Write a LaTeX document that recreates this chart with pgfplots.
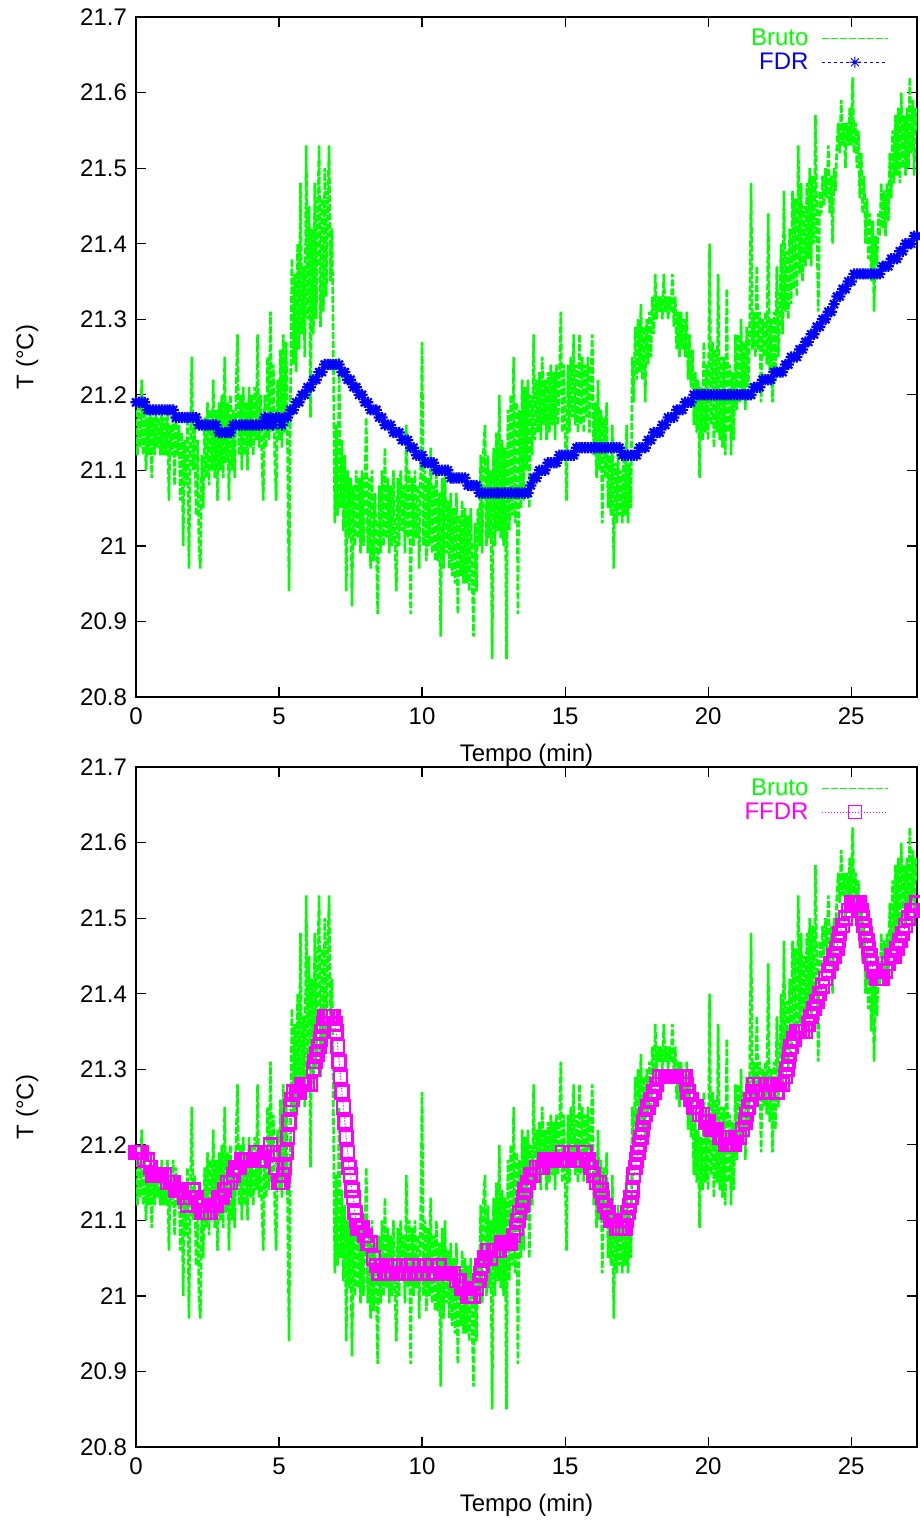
\documentclass[border=0pt]{standalone}
\usepackage{fontspec}
\setmainfont{Liberation Sans}
\usepackage{pgfplots}
\pgfplotsset{compat=1.18}
\usepackage{pgfplotstable}

\definecolor{cgreen}{RGB}{0,255,0}
\definecolor{cblue}{RGB}{0,0,255}
\definecolor{cmag}{RGB}{255,0,255}

\pgfdeclareplotmark{gstar}{%
  \pgfpathmoveto{\pgfqpoint{-\pgfplotmarksize}{0pt}}\pgfpathlineto{\pgfqpoint{\pgfplotmarksize}{0pt}}%
  \pgfpathmoveto{\pgfqpoint{0pt}{-\pgfplotmarksize}}\pgfpathlineto{\pgfqpoint{0pt}{\pgfplotmarksize}}%
  \pgfpathmoveto{\pgfqpoint{-0.707\pgfplotmarksize}{-0.707\pgfplotmarksize}}\pgfpathlineto{\pgfqpoint{0.707\pgfplotmarksize}{0.707\pgfplotmarksize}}%
  \pgfpathmoveto{\pgfqpoint{-0.707\pgfplotmarksize}{0.707\pgfplotmarksize}}\pgfpathlineto{\pgfqpoint{0.707\pgfplotmarksize}{-0.707\pgfplotmarksize}}%
  \pgfusepathqstroke}

\pgfplotstableread[row sep=\\]{t T\\
0 21.18\\0.05 21.12\\0.1 21.19\\0.15 21.13\\0.2 21.22\\0.25 21.12\\0.3 21.18\\0.35 21.10\\0.4 21.17\\0.45 21.12\\
0.5 21.18\\0.55 21.09\\0.6 21.17\\0.65 21.12\\0.7 21.18\\0.75 21.13\\0.8 21.17\\0.85 21.12\\0.9 21.18\\0.95 21.12\\
1 21.17\\1.05 21.12\\1.1 21.18\\1.15 21.06\\1.2 21.16\\1.25 21.12\\1.3 21.18\\1.35 21.08\\1.4 21.17\\1.45 21.12\\
1.5 21.16\\1.55 21.06\\1.6 21.15\\1.65 21.00\\1.7 21.14\\1.75 21.08\\1.8 21.17\\1.85 20.97\\1.9 21.12\\1.95 21.25\\
2 21.10\\2.05 21.16\\2.1 21.04\\2.15 21.14\\2.2 21.00\\2.25 20.97\\2.3 21.12\\2.35 21.05\\2.4 21.17\\2.45 21.09\\
2.5 21.19\\2.55 21.08\\2.6 21.18\\2.65 21.10\\2.7 21.22\\2.75 21.09\\2.8 21.18\\2.85 21.06\\2.9 21.19\\2.95 21.10\\
3 21.20\\3.05 21.09\\3.1 21.25\\3.15 21.11\\3.2 21.19\\3.25 21.06\\3.3 21.20\\3.35 21.10\\3.4 21.18\\3.45 21.09\\
3.5 21.21\\3.55 21.28\\3.6 21.12\\3.65 21.20\\3.7 21.10\\3.75 21.21\\3.8 21.12\\3.85 21.19\\3.9 21.10\\3.95 21.21\\
4 21.13\\4.05 21.20\\4.1 21.12\\4.15 21.21\\4.2 21.14\\4.25 21.28\\4.3 21.13\\4.35 21.20\\4.4 21.12\\4.45 21.06\\
4.5 21.20\\4.55 21.13\\4.6 21.25\\4.65 21.14\\4.7 21.31\\4.75 21.15\\4.8 21.24\\4.85 21.12\\4.9 21.06\\4.95 21.22\\
5 21.14\\5.05 21.26\\5.1 21.13\\5.15 21.28\\5.2 21.15\\5.25 21.27\\5.3 21.12\\5.35 20.94\\5.4 21.20\\5.45 21.38\\
5.5 21.24\\5.55 21.36\\5.6 21.23\\5.65 21.40\\5.7 21.26\\5.75 21.48\\5.8 21.28\\5.85 21.37\\5.9 21.25\\5.95 21.53\\
6 21.30\\6.05 21.45\\6.1 21.17\\6.15 21.42\\6.2 21.28\\6.25 21.48\\6.3 21.30\\6.35 21.44\\6.4 21.53\\6.45 21.29\\
6.5 21.46\\6.55 21.31\\6.6 21.50\\6.65 21.33\\6.7 21.45\\6.75 21.53\\6.8 21.35\\6.85 21.42\\6.9 21.25\\6.95 21.03\\
7 21.16\\7.05 21.04\\7.1 21.25\\7.15 21.05\\7.2 21.14\\7.25 21.02\\7.3 21.12\\7.35 20.94\\7.4 21.10\\7.45 21.01\\
7.5 21.09\\7.55 20.92\\7.6 21.08\\7.65 21.00\\7.7 21.10\\7.75 21.01\\7.8 21.09\\7.85 20.99\\7.9 21.10\\7.95 21.00\\
8 21.08\\8.05 21.17\\8.1 20.99\\8.15 21.09\\8.2 20.97\\8.25 21.10\\8.3 20.98\\8.35 21.07\\8.4 21.00\\8.45 20.91\\
8.5 21.08\\8.55 20.99\\8.6 21.10\\8.65 21.00\\8.7 21.13\\8.75 21.01\\8.8 21.09\\8.85 20.99\\8.9 21.08\\8.95 21.00\\
9 21.10\\9.05 21.01\\9.1 20.94\\9.15 21.09\\9.2 21.00\\9.25 21.10\\9.3 21.02\\9.35 21.08\\9.4 20.99\\9.45 21.16\\
9.5 21.01\\9.55 21.10\\9.6 20.91\\9.65 21.09\\9.7 21.00\\9.75 21.10\\9.8 21.01\\9.85 21.08\\9.9 20.97\\9.95 21.10\\
10 21.27\\10.05 21.00\\10.1 21.10\\10.15 20.98\\10.2 21.09\\10.25 21.00\\10.3 21.13\\10.35 20.99\\10.4 21.08\\10.45 20.98\\
10.5 21.10\\10.55 20.98\\10.6 21.07\\10.65 20.88\\10.7 21.09\\10.75 20.97\\10.8 21.10\\10.85 20.99\\10.9 21.06\\10.95 20.97\\
11 21.07\\11.05 20.96\\11.1 21.05\\11.15 20.95\\11.2 21.07\\11.25 20.91\\11.3 21.04\\11.35 20.96\\11.4 21.06\\11.45 20.95\\
11.5 21.05\\11.55 20.95\\11.6 21.04\\11.65 20.94\\11.7 21.05\\11.75 20.96\\11.8 20.88\\11.85 21.03\\11.9 20.94\\11.95 21.05\\
12 21.00\\12.05 21.12\\12.1 20.99\\12.15 21.13\\12.2 21.16\\12.25 21.00\\12.3 21.12\\12.35 21.01\\12.4 21.10\\12.45 20.85\\
12.5 21.13\\12.55 21.00\\12.6 21.15\\12.65 21.02\\12.7 21.20\\12.75 21.01\\12.8 21.14\\12.85 21.00\\12.9 21.13\\12.95 20.85\\
13 21.18\\13.05 21.02\\13.1 21.20\\13.15 21.04\\13.2 21.25\\13.25 21.03\\13.3 21.19\\13.35 20.91\\13.4 21.18\\13.45 21.05\\
13.5 21.22\\13.55 21.06\\13.6 21.21\\13.65 21.10\\13.7 21.22\\13.75 21.05\\13.8 21.20\\13.85 21.12\\13.9 21.28\\13.95 21.14\\
14 21.22\\14.05 21.15\\14.1 21.23\\14.15 21.14\\14.2 21.25\\14.25 21.16\\14.3 21.22\\14.35 21.14\\14.4 21.23\\14.45 21.15\\
14.5 21.24\\14.55 21.16\\14.6 21.23\\14.65 21.14\\14.7 21.24\\14.75 21.16\\14.8 21.22\\14.85 21.31\\14.9 21.15\\14.95 21.24\\
15 21.16\\15.05 21.06\\15.1 21.24\\15.15 21.15\\15.2 21.25\\15.25 21.17\\15.3 21.28\\15.35 21.16\\15.4 21.24\\15.45 21.15\\
15.5 21.28\\15.55 21.16\\15.6 21.25\\15.65 21.15\\15.7 21.24\\15.75 21.17\\15.8 21.25\\15.85 21.15\\15.9 21.22\\15.95 21.28\\
16 21.12\\16.05 21.19\\16.1 21.09\\16.15 21.22\\16.2 21.10\\16.25 21.18\\16.3 21.03\\16.35 21.17\\16.4 21.09\\16.45 21.19\\
16.5 21.05\\16.55 21.12\\16.6 21.04\\16.65 21.16\\16.7 20.97\\16.75 21.11\\16.8 21.03\\16.85 21.12\\16.9 21.04\\16.95 21.10\\
17 21.03\\17.05 21.12\\17.1 21.04\\17.15 21.16\\17.2 21.03\\17.25 21.11\\17.3 21.05\\17.35 21.25\\17.4 21.19\\17.45 21.29\\
17.5 21.22\\17.55 21.30\\17.6 21.23\\17.65 21.32\\17.7 21.22\\17.75 21.29\\17.8 21.19\\17.85 21.30\\17.9 21.24\\17.95 21.31\\
18 21.25\\18.05 21.33\\18.1 21.28\\18.15 21.36\\18.2 21.30\\18.25 21.33\\18.3 21.31\\18.35 21.33\\18.4 21.30\\18.45 21.36\\
18.5 21.31\\18.55 21.33\\18.6 21.30\\18.65 21.33\\18.7 21.31\\18.75 21.36\\18.8 21.29\\18.85 21.33\\18.9 21.26\\18.95 21.31\\
19 21.25\\19.05 21.31\\19.1 21.26\\19.15 21.30\\19.2 21.25\\19.25 21.31\\19.3 21.22\\19.35 21.28\\19.4 21.21\\19.45 21.26\\
19.5 21.16\\19.55 21.23\\19.6 21.15\\19.65 21.22\\19.7 21.09\\19.75 21.21\\19.8 21.14\\19.85 21.27\\19.9 21.15\\19.95 21.24\\
20 21.14\\20.05 21.40\\20.1 21.16\\20.15 21.27\\20.2 21.13\\20.25 21.26\\20.3 21.15\\20.35 21.36\\20.4 21.14\\20.45 21.25\\
20.5 21.13\\20.55 21.25\\20.6 21.12\\20.65 21.34\\20.7 21.15\\20.75 21.24\\20.8 21.12\\20.85 21.23\\20.9 21.14\\20.95 21.28\\
21 21.18\\21.05 21.28\\21.1 21.19\\21.15 21.30\\21.2 21.20\\21.25 21.27\\21.3 21.18\\21.35 21.29\\21.4 21.21\\21.45 21.28\\
21.5 21.48\\21.55 21.26\\21.6 21.31\\21.65 21.25\\21.7 21.37\\21.75 21.26\\21.8 21.31\\21.85 21.19\\21.9 21.30\\21.95 21.25\\
22 21.31\\22.05 21.24\\22.1 21.44\\22.15 21.23\\22.2 21.30\\22.25 21.19\\22.3 21.31\\22.35 21.22\\22.4 21.37\\22.45 21.25\\
22.5 21.30\\22.55 21.40\\22.6 21.28\\22.65 21.47\\22.7 21.31\\22.75 21.39\\22.8 21.30\\22.85 21.42\\22.9 21.32\\22.95 21.47\\
23 21.34\\23.05 21.46\\23.1 21.33\\23.15 21.53\\23.2 21.36\\23.25 21.48\\23.3 21.35\\23.35 21.45\\23.4 21.37\\23.45 21.48\\
23.5 21.38\\23.55 21.50\\23.6 21.37\\23.65 21.49\\23.7 21.40\\23.75 21.57\\23.8 21.42\\23.85 21.31\\23.9 21.47\\23.95 21.44\\
24 21.49\\24.05 21.45\\24.1 21.50\\24.15 21.46\\24.2 21.53\\24.25 21.44\\24.3 21.49\\24.35 21.40\\24.4 21.50\\24.45 21.47\\
24.5 21.53\\24.55 21.56\\24.6 21.52\\24.65 21.59\\24.7 21.53\\24.75 21.56\\24.8 21.50\\24.85 21.56\\24.9 21.53\\24.95 21.58\\
25 21.53\\25.05 21.62\\25.1 21.52\\25.15 21.56\\25.2 21.50\\25.25 21.55\\25.3 21.46\\25.35 21.52\\25.4 21.44\\25.45 21.49\\
25.5 21.40\\25.55 21.46\\25.6 21.38\\25.65 21.44\\25.7 21.35\\25.75 21.43\\25.8 21.31\\25.85 21.41\\25.9 21.37\\25.95 21.44\\
26 21.41\\26.05 21.48\\26.1 21.42\\26.15 21.47\\26.2 21.41\\26.25 21.48\\26.3 21.43\\26.35 21.52\\26.4 21.46\\26.45 21.55\\
26.5 21.48\\26.55 21.57\\26.6 21.49\\26.65 21.58\\26.7 21.48\\26.75 21.60\\26.8 21.50\\26.85 21.57\\26.9 21.49\\26.95 21.58\\
27 21.50\\27.05 21.62\\27.1 21.52\\27.15 21.59\\27.2 21.49\\27.25 21.58\\27.3 21.55\\
}\bruto

\pgfplotstableread[row sep=\\]{t T\\
0 21.19\\0.1 21.19\\0.2 21.19\\0.3 21.19\\0.4 21.18\\0.5 21.18\\0.6 21.18\\0.7 21.18\\0.8 21.18\\0.9 21.18\\
1 21.18\\1.1 21.18\\1.2 21.18\\1.3 21.18\\1.4 21.17\\1.5 21.17\\1.6 21.17\\1.7 21.17\\1.8 21.17\\1.9 21.17\\
2 21.17\\2.1 21.17\\2.2 21.16\\2.3 21.16\\2.4 21.16\\2.5 21.16\\2.6 21.16\\2.7 21.16\\2.8 21.16\\2.9 21.15\\
3 21.15\\3.1 21.15\\3.2 21.15\\3.3 21.15\\3.4 21.16\\3.5 21.16\\3.6 21.16\\3.7 21.16\\3.8 21.16\\3.9 21.16\\
4 21.16\\4.1 21.16\\4.2 21.16\\4.3 21.16\\4.4 21.16\\4.5 21.17\\4.6 21.16\\4.7 21.17\\4.8 21.16\\4.9 21.17\\
5 21.17\\5.1 21.16\\5.2 21.17\\5.3 21.17\\5.4 21.18\\5.5 21.18\\5.6 21.19\\5.7 21.19\\5.8 21.20\\5.9 21.20\\
6 21.21\\6.1 21.21\\6.2 21.22\\6.3 21.22\\6.4 21.23\\6.5 21.23\\6.6 21.24\\6.7 21.24\\6.8 21.24\\6.9 21.24\\
7 21.24\\7.1 21.24\\7.2 21.23\\7.3 21.23\\7.4 21.22\\7.5 21.22\\7.6 21.21\\7.7 21.21\\7.8 21.20\\7.9 21.20\\
8 21.19\\8.1 21.19\\8.2 21.18\\8.3 21.18\\8.4 21.18\\8.5 21.17\\8.6 21.17\\8.7 21.16\\8.8 21.16\\8.9 21.16\\
9 21.15\\9.1 21.15\\9.2 21.15\\9.3 21.14\\9.4 21.14\\9.5 21.14\\9.6 21.13\\9.7 21.13\\9.8 21.12\\9.9 21.12\\
10 21.12\\10.1 21.11\\10.2 21.11\\10.3 21.11\\10.4 21.11\\10.5 21.10\\10.6 21.10\\10.7 21.10\\10.8 21.10\\10.9 21.10\\
11 21.09\\11.1 21.09\\11.2 21.09\\11.3 21.09\\11.4 21.09\\11.5 21.09\\11.6 21.08\\11.7 21.08\\11.8 21.08\\11.9 21.08\\
12 21.07\\12.1 21.07\\12.2 21.07\\12.3 21.07\\12.4 21.07\\12.5 21.07\\12.6 21.07\\12.7 21.07\\12.8 21.07\\12.9 21.07\\
13 21.07\\13.1 21.07\\13.2 21.07\\13.3 21.07\\13.4 21.07\\13.5 21.07\\13.6 21.07\\13.7 21.07\\13.8 21.08\\13.9 21.09\\
14 21.09\\14.1 21.10\\14.2 21.10\\14.3 21.10\\14.4 21.11\\14.5 21.11\\14.6 21.11\\14.7 21.11\\14.8 21.12\\14.9 21.12\\
15 21.12\\15.1 21.12\\15.2 21.12\\15.3 21.12\\15.4 21.13\\15.5 21.13\\15.6 21.13\\15.7 21.13\\15.8 21.13\\15.9 21.13\\
16 21.13\\16.1 21.13\\16.2 21.13\\16.3 21.13\\16.4 21.13\\16.5 21.13\\16.6 21.13\\16.7 21.13\\16.8 21.13\\16.9 21.13\\
17 21.12\\17.1 21.12\\17.2 21.12\\17.3 21.12\\17.4 21.12\\17.5 21.12\\17.6 21.13\\17.7 21.13\\17.8 21.13\\17.9 21.14\\
18 21.14\\18.1 21.15\\18.2 21.15\\18.3 21.15\\18.4 21.16\\18.5 21.16\\18.6 21.17\\18.7 21.17\\18.8 21.17\\18.9 21.18\\
19 21.18\\19.1 21.18\\19.2 21.19\\19.3 21.19\\19.4 21.19\\19.5 21.20\\19.6 21.20\\19.7 21.20\\19.8 21.20\\19.9 21.20\\
20 21.20\\20.1 21.20\\20.2 21.20\\20.3 21.20\\20.4 21.20\\20.5 21.20\\20.6 21.20\\20.7 21.20\\20.8 21.20\\20.9 21.20\\
21 21.20\\21.1 21.20\\21.2 21.20\\21.3 21.20\\21.4 21.20\\21.5 21.20\\21.6 21.21\\21.7 21.21\\21.8 21.21\\21.9 21.22\\
22 21.22\\22.1 21.22\\22.2 21.22\\22.3 21.23\\22.4 21.23\\22.5 21.23\\22.6 21.23\\22.7 21.24\\22.8 21.24\\22.9 21.25\\
23 21.25\\23.1 21.25\\23.2 21.26\\23.3 21.26\\23.4 21.27\\23.5 21.27\\23.6 21.28\\23.7 21.28\\23.8 21.29\\23.9 21.29\\
24 21.30\\24.1 21.30\\24.2 21.31\\24.3 21.31\\24.4 21.32\\24.5 21.33\\24.6 21.33\\24.7 21.34\\24.8 21.34\\24.9 21.35\\
25 21.35\\25.1 21.36\\25.2 21.36\\25.3 21.36\\25.4 21.36\\25.5 21.36\\25.6 21.36\\25.7 21.36\\25.8 21.36\\25.9 21.36\\
26 21.36\\26.1 21.37\\26.2 21.37\\26.3 21.37\\26.4 21.38\\26.5 21.38\\26.6 21.38\\26.7 21.39\\26.8 21.39\\26.9 21.40\\
27 21.40\\27.1 21.40\\27.2 21.41\\27.3 21.41\\
}\fdr

\pgfplotstableread[row sep=\\]{t T\\
0 21.19\\0.1 21.19\\0.2 21.19\\0.3 21.18\\0.4 21.18\\0.5 21.17\\0.6 21.16\\0.7 21.16\\0.8 21.16\\0.9 21.16\\
1 21.16\\1.1 21.15\\1.2 21.15\\1.3 21.15\\1.4 21.14\\1.5 21.14\\1.6 21.14\\1.7 21.13\\1.8 21.12\\1.9 21.13\\
2 21.14\\2.1 21.13\\2.2 21.12\\2.3 21.11\\2.4 21.11\\2.5 21.11\\2.6 21.11\\2.7 21.12\\2.8 21.12\\2.9 21.13\\
3 21.13\\3.1 21.14\\3.2 21.15\\3.3 21.15\\3.4 21.16\\3.5 21.17\\3.6 21.17\\3.7 21.18\\3.8 21.18\\3.9 21.18\\
4 21.18\\4.1 21.18\\4.2 21.19\\4.3 21.18\\4.4 21.18\\4.5 21.19\\4.6 21.19\\4.7 21.20\\4.8 21.19\\4.9 21.17\\
5 21.15\\5.1 21.15\\5.15 21.16\\5.2 21.17\\5.25 21.19\\5.3 21.21\\5.35 21.23\\5.4 21.25\\5.45 21.26\\5.5 21.27\\5.6 21.27\\5.7 21.27\\5.8 21.28\\5.9 21.28\\
6 21.28\\6.1 21.28\\6.2 21.30\\6.25 21.31\\6.3 21.32\\6.35 21.32\\6.4 21.33\\6.45 21.34\\6.5 21.35\\6.55 21.36\\6.6 21.37\\6.7 21.37\\6.8 21.37\\6.9 21.37\\
6.95 21.36\\7 21.35\\7.05 21.33\\7.1 21.31\\7.15 21.29\\7.2 21.27\\7.25 21.25\\7.3 21.23\\7.35 21.21\\7.4 21.19\\7.45 21.17\\7.5 21.16\\7.55 21.14\\7.6 21.13\\7.65 21.11\\7.7 21.10\\7.75 21.09\\7.8 21.09\\7.9 21.09\\
8 21.08\\8.1 21.07\\8.2 21.07\\8.3 21.05\\8.4 21.04\\8.5 21.03\\8.6 21.04\\8.7 21.03\\8.8 21.03\\8.9 21.04\\
9 21.04\\9.1 21.03\\9.2 21.04\\9.3 21.03\\9.4 21.03\\9.5 21.04\\9.6 21.03\\9.7 21.04\\9.8 21.03\\9.9 21.04\\
10 21.03\\10.1 21.04\\10.2 21.03\\10.3 21.04\\10.4 21.03\\10.5 21.03\\10.6 21.04\\10.7 21.03\\10.8 21.03\\10.9 21.03\\
11 21.03\\11.1 21.03\\11.2 21.02\\11.3 21.02\\11.4 21.01\\11.5 21.01\\11.6 21.00\\11.7 21.00\\11.8 21.00\\11.9 21.01\\
12 21.02\\12.05 21.03\\12.1 21.04\\12.2 21.05\\12.3 21.06\\12.4 21.05\\12.5 21.06\\12.6 21.06\\12.7 21.06\\12.8 21.07\\12.9 21.07\\
13 21.07\\13.1 21.07\\13.2 21.08\\13.3 21.09\\13.35 21.10\\13.4 21.11\\13.5 21.12\\13.55 21.13\\13.6 21.14\\13.7 21.15\\13.8 21.16\\13.9 21.16\\
14 21.17\\14.1 21.17\\14.2 21.17\\14.3 21.18\\14.4 21.18\\14.5 21.18\\14.6 21.18\\14.7 21.18\\14.8 21.18\\14.9 21.19\\
15 21.18\\15.1 21.18\\15.2 21.19\\15.3 21.18\\15.4 21.18\\15.5 21.18\\15.6 21.18\\15.7 21.19\\15.8 21.18\\15.9 21.17\\
16 21.16\\16.1 21.15\\16.2 21.15\\16.25 21.14\\16.3 21.13\\16.4 21.12\\16.5 21.11\\16.6 21.10\\16.7 21.10\\16.8 21.09\\16.9 21.09\\
17 21.09\\17.1 21.09\\17.15 21.10\\17.2 21.11\\17.25 21.12\\17.3 21.13\\17.35 21.14\\17.4 21.16\\17.45 21.17\\17.5 21.18\\17.55 21.19\\17.6 21.20\\17.65 21.21\\17.7 21.22\\17.75 21.23\\17.8 21.24\\17.9 21.25\\
18 21.26\\18.1 21.27\\18.2 21.28\\18.3 21.29\\18.4 21.29\\18.5 21.29\\18.6 21.29\\18.7 21.29\\18.8 21.29\\18.9 21.29\\
19 21.29\\19.1 21.29\\19.2 21.29\\19.25 21.28\\19.3 21.27\\19.4 21.26\\19.5 21.25\\19.6 21.25\\19.7 21.24\\19.8 21.24\\19.9 21.23\\
20 21.23\\20.1 21.22\\20.2 21.22\\20.3 21.22\\20.4 21.21\\20.5 21.21\\20.6 21.20\\20.7 21.20\\20.8 21.20\\20.9 21.20\\
21 21.21\\21.1 21.21\\21.2 21.22\\21.3 21.23\\21.35 21.24\\21.4 21.25\\21.5 21.26\\21.55 21.27\\21.6 21.28\\21.7 21.27\\21.8 21.28\\21.9 21.27\\
22 21.28\\22.1 21.27\\22.2 21.28\\22.3 21.28\\22.4 21.27\\22.5 21.28\\22.6 21.28\\22.7 21.29\\22.75 21.30\\22.8 21.31\\22.85 21.32\\22.9 21.33\\
23 21.34\\23.1 21.35\\23.2 21.35\\23.3 21.35\\23.4 21.35\\23.5 21.36\\23.6 21.37\\23.7 21.38\\23.8 21.39\\23.9 21.40\\
24 21.41\\24.1 21.42\\24.2 21.43\\24.3 21.44\\24.4 21.45\\24.5 21.46\\24.55 21.47\\24.6 21.48\\24.7 21.49\\24.8 21.50\\24.9 21.51\\
25 21.52\\25.1 21.52\\25.2 21.52\\25.3 21.52\\25.35 21.51\\25.4 21.50\\25.45 21.49\\25.5 21.48\\25.55 21.47\\25.6 21.46\\25.65 21.45\\25.7 21.44\\25.8 21.43\\25.9 21.42\\
26 21.42\\26.1 21.42\\26.2 21.43\\26.3 21.44\\26.4 21.45\\26.5 21.45\\26.6 21.46\\26.7 21.47\\26.8 21.48\\26.9 21.49\\
27 21.50\\27.1 21.51\\27.2 21.51\\27.3 21.52\\
}\ffdr

\pgfplotsset{
  myax/.style={
    scale only axis, width=390.5pt, height=340pt,
    xmin=0, xmax=27.3, ymin=20.8, ymax=21.7,
    xtick={0,5,10,15,20,25},
    ytick={20.8,20.9,21,21.1,21.2,21.3,21.4,21.5,21.6,21.7},
    minor tick num=0,
    tick align=inside, major tick length=5pt,
    xtick pos=both, ytick pos=both,
    xticklabel pos=lower, yticklabel pos=left,
    axis line style={black, line width=0.6pt},
    tick style={black, line width=0.6pt},
    /pgf/number format/assume math mode=true,
    tick label style={font=\fontsize{12}{14}\selectfont},
    xticklabel style={yshift=-2pt},
    yticklabel style={xshift=-1pt},
    label style={font=\fontsize{12}{14}\selectfont},
    xlabel={Tempo (min)}, ylabel={T (°C)},
    xlabel style={at={(axis description cs:0.5,-0.085)}, anchor=center},
    ylabel style={at={(axis description cs:-0.1395,0.5)}, anchor=center},
    legend style={draw=none, fill=none, inner sep=0pt,
      at={(axis description cs:0.964,0.987)}, anchor=north east,
      font=\fontsize{12}{14}\selectfont,
      nodes={inner sep=1pt, text height=8.6pt, text depth=1.4pt},
      column sep=5.5pt, row sep=0pt},
    legend cell align=right, legend plot pos=right,
    legend image code/.code={\draw[mark repeat=2,mark phase=2,##1,line width=0.5pt,mark options={solid,line width=0.5pt}] plot coordinates {(0pt,0pt)(16.5pt,0pt)(33pt,0pt)};},
  },
  bruto/.style={cgreen, line width=1.3pt, dash pattern=on 3.5pt off 1pt, mark=none},
}

\begin{document}
\begin{tikzpicture}
\begin{axis}[myax, at={(0,0)}, anchor=north west]
  \addplot[bruto] table[x=t,y=T]{\bruto};
  \addlegendentry{\textcolor{cgreen}{Bruto}}
  \addplot[cblue, line width=0.6pt, dash pattern=on 1.5pt off 1.5pt, mark=gstar, mark size=2.8pt, mark options={solid, line width=1.1pt}] table[x=t,y=T]{\fdr};
  \addlegendentry{\textcolor{cblue}{FDR}}
\end{axis}
\begin{axis}[myax, at={(0,-375pt)}, anchor=north west]
  \addplot[bruto] table[x=t,y=T]{\bruto};
  \addlegendentry{\textcolor{cgreen}{Bruto}}
  \addplot[cmag, line width=0.5pt, dash pattern=on 0.6pt off 0.9pt, mark=square, mark size=3.2pt, mark options={solid, line width=1.3pt}] table[x=t,y=T]{\ffdr};
  \addlegendentry{\textcolor{cmag}{FFDR}}
\end{axis}
\pgfresetboundingbox
\path[use as bounding box] (-68pt,8.5pt) rectangle (392pt,-752pt);
\end{tikzpicture}
\end{document}
